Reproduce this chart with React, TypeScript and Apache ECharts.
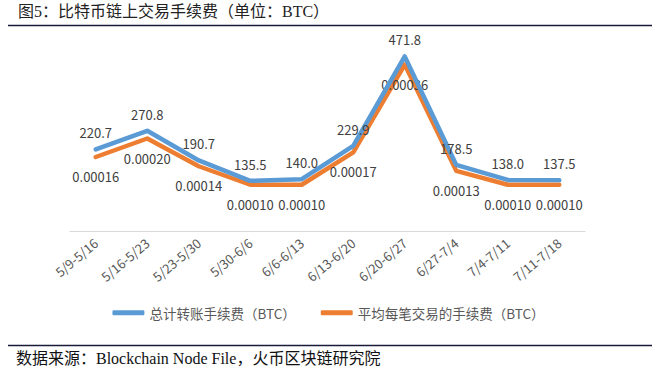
import React, { useEffect, useRef } from "react";
import * as echarts from "echarts";

const categories = ["5/9-5/16", "5/16-5/23", "5/23-5/30", "5/30-6/6", "6/6-6/13", "6/13-6/20", "6/20-6/27", "6/27-7/4", "7/4-7/11", "7/11-7/18"];
const totalFees = [220.7, 270.8, 190.7, 135.5, 140.0, 229.9, 471.8, 178.5, 138.0, 137.5];
const avgFees = [0.00016, 0.0002, 0.00014, 0.0001, 0.0001, 0.00017, 0.00036, 0.00013, 0.0001, 0.0001];
const seriesNames = ["总计转账手续费（BTC）", "平均每笔交易的手续费（BTC）"];
const titleText = "图5：比特币链上交易手续费（单位：BTC）";
const sourceText = "数据来源：Blockchain Node File，火币区块链研究院";

export default function App() {
  const ref = useRef<HTMLDivElement>(null);
  useEffect(() => {
    document.body.style.margin = "0";
    const chart = echarts.init(ref.current!, null, { renderer: "svg" });
    const font = "'Noto Sans CJK SC', 'Noto Sans', sans-serif";
    const serif = "'Liberation Serif', 'Noto Sans CJK SC', serif";
    chart.setOption({
      animation: false,
      backgroundColor: "#ffffff",
      textStyle: { fontFamily: font },
      grid: { left: 70, right: 72, top: 46, bottom: 142 },
      xAxis: {
        type: "category",
        data: categories,
        boundaryGap: true,
        axisLine: { lineStyle: { color: "#d9d9d9", width: 1 } },
        axisTick: { show: false },
        axisLabel: { rotate: 40, fontSize: 13, color: "#595959", margin: 10, interval: 0, fontFamily: font },
      },
      yAxis: [
        { type: "value", min: 0, max: 500, show: false, splitLine: { show: false } },
        { type: "value", min: 0, max: 0.0004, show: false, splitLine: { show: false } },
      ],
      legend: {
        top: 301,
        left: "center",
        itemWidth: 32,
        itemHeight: 5,
        itemGap: 25,
        icon: "roundRect",
        textStyle: { fontSize: 13.5, color: "#595959", fontFamily: font },
        data: seriesNames,
      },
      series: [
        {
          name: seriesNames[0],
          type: "line",
          data: totalFees,
          yAxisIndex: 0,
          symbol: "circle",
          symbolSize: 0.1,
          showSymbol: true,
          lineStyle: { color: "#5B9BD5", width: 4.5, cap: "round", join: "round" },
          itemStyle: { color: "#5B9BD5" },
          label: {
            show: true,
            position: "top",
            distance: 10,
            fontSize: 13,
            color: "#404040",
            fontFamily: font,
            formatter: (p: any) => Number(p.value).toFixed(1),
          },
          z: 3,
        },
        {
          name: seriesNames[1],
          type: "line",
          data: avgFees,
          yAxisIndex: 1,
          symbol: "circle",
          symbolSize: 0.1,
          showSymbol: true,
          lineStyle: { color: "#ED7D31", width: 4.5, cap: "round", join: "round" },
          itemStyle: { color: "#ED7D31" },
          label: {
            show: true,
            position: "bottom",
            distance: 13,
            fontSize: 13,
            color: "#404040",
            fontFamily: font,
            formatter: (p: any) => Number(p.value).toFixed(5),
          },
          z: 2,
        },
      ],
      graphic: [
        {
          type: "text",
          left: 18,
          top: 3,
          style: { text: titleText, fontSize: 16, fill: "#222222", fontFamily: serif },
        },
        {
          type: "line",
          shape: { x1: 8, y1: 25.5, x2: 652, y2: 25.5 },
          style: { stroke: "#1a1a3a", lineWidth: 1.5 },
        },
        {
          type: "line",
          shape: { x1: 8, y1: 345.5, x2: 652, y2: 345.5 },
          style: { stroke: "#1a1a3a", lineWidth: 1.5 },
        },
        {
          type: "text",
          left: 16,
          top: 350,
          style: { text: sourceText, fontSize: 16, fill: "#111111", fontFamily: serif },
        },
      ],
    });
    return () => chart.dispose();
  }, []);
  return <div ref={ref} style={{ position: "absolute", left: 0, top: 0, width: 657, height: 373 }} />;
}
